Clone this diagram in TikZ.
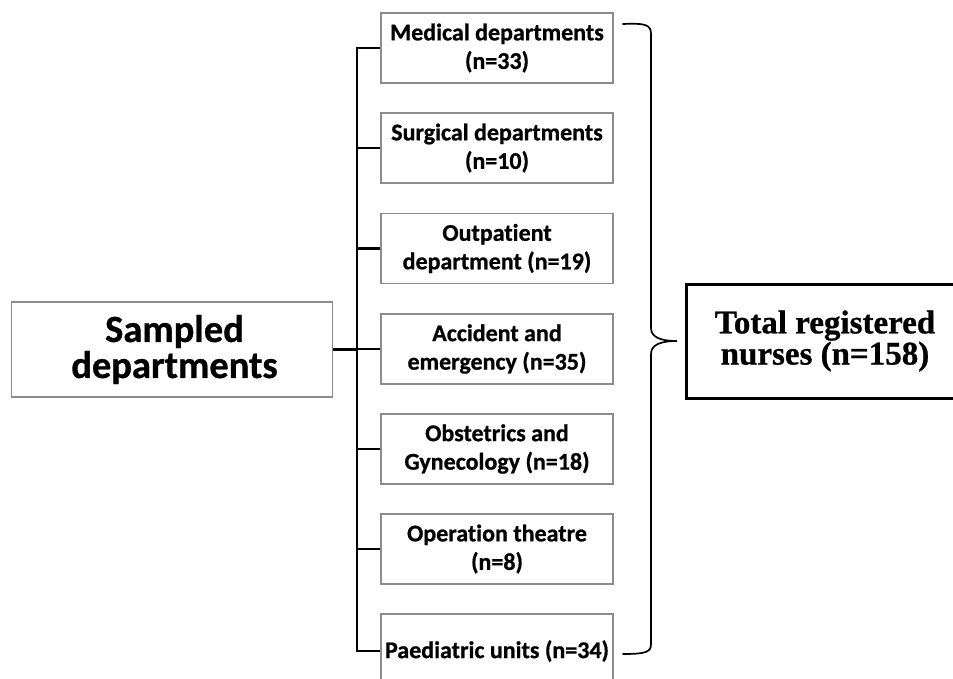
\documentclass[tikz,border=0pt]{standalone}
\usepackage{fontspec}
\setmainfont{Carlito}[Ligatures={NoCommon},BoldFeatures={FakeBold=0.8}]
\newfontfamily\timesf{Liberation Serif}[BoldFeatures={FakeBold=0.8}]
\begin{document}
\begin{tikzpicture}[x=1pt,y=-1pt,
  dept/.style={draw=black!45, line width=1.3pt, minimum width=232pt, minimum height=70pt,
    align=center, inner sep=0pt, font=\fontsize{24}{28.5}\selectfont\bfseries},
  conn/.style={line width=2.8pt},
  bracel/.style={line width=1.7pt, line cap=round}]
\clip (0,0) rectangle (953,679);
\node[draw=black!45, line width=1.3pt, minimum width=321pt, minimum height=95pt, inner sep=0pt,
  align=center, font=\fontsize{38.5}{36}\selectfont\bfseries] (s) at (172,349.5) {\hspace*{5pt}Sampled\\\hspace*{5pt}departments};
\node[dept] (d1) at (497,48) {Medical departments\\(n=33)};
\node[dept] (d2) at (497,148) {Surgical departments\\(n=10)};
\node[dept] (d3) at (497,248.5) {Outpatient\\department (n=19)};
\node[dept] (d4) at (497,349) {Accident and\\emergency (n=35)};
\node[dept] (d5) at (497,449) {Obstetrics and\\Gynecology (n=18)};
\node[dept] (d6) at (497,549) {Operation theatre\\(n=8)};
\node[dept, minimum height=74pt] (d7) at (497,651) {Paediatric units (n=34)};
\node[draw=black, line width=3pt, minimum width=278pt, minimum height=114pt, inner sep=0pt,
  align=center, font=\timesf\fontsize{33}{29.5}\selectfont\bfseries] (t) at (825,341) {Total registered\\nurses (n=158)};
\coordinate (tr) at (357,0);
\draw[conn] (d1.west) -- (d1.west -| tr) -- (d7.west -| tr) -- (d7.west);
\foreach \i in {2,...,6} {\draw[conn] (d\i.west) -- (d\i.west -| tr);}
\draw[conn] (s.east) -- (s.east -| tr);
\coordinate (b1) at (623,24);
\coordinate (b2) at (623,654);
\coordinate (tip) at (677,341);
\draw[bracel] (b1) .. controls (646,23) and (651,25) .. (651,34) -- (651,328)
  .. controls (651,337) and (660,341) .. (tip)
  .. controls (660,341) and (651,345) .. (651,354) -- (651,644)
  .. controls (651,652) and (646,654) .. (b2);
\end{tikzpicture}
\end{document}
